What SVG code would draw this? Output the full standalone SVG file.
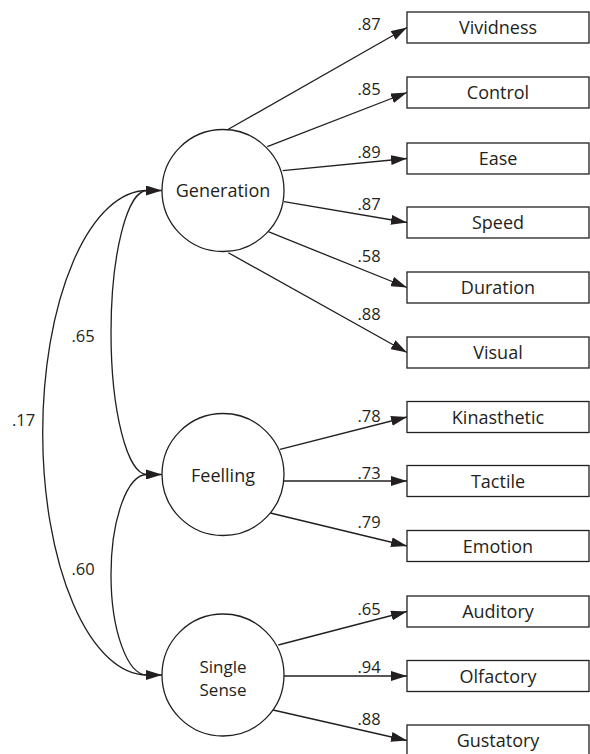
<svg xmlns="http://www.w3.org/2000/svg" width="590" height="754" viewBox="0 0 590 754">
<style>
.bg{fill:#ffffff}
.box{fill:#ffffff;stroke:#231f20;stroke-width:1.3}
.lat{fill:#ffffff;stroke:#231f20;stroke-width:1.3}
.ln{fill:none;stroke:#231f20;stroke-width:1.3}
.t{font-family:"Open Sans",Lato,"Liberation Sans",sans-serif;font-size:18px;fill:#231f20;text-anchor:middle}
.s{font-family:"Open Sans",Lato,"Liberation Sans",sans-serif;font-size:17px;fill:#231f20;text-anchor:middle}
.n{font-family:"Open Sans",Lato,"Liberation Sans",sans-serif;font-size:16.5px;fill:#231f20;text-anchor:middle}
</style>
<defs>
<marker id="ah" markerUnits="userSpaceOnUse" viewBox="0 0 16 10" markerWidth="16" markerHeight="10" refX="16" refY="5" orient="auto-start-reverse">
<path d="M0,0 L16,5 L0,10 z" fill="#231f20"/>
</marker>
</defs>
<rect class="bg" x="0" y="0" width="590" height="754"/>
<g id="connectors">
<path class="ln" d="M228.3,129.3 L407,27.5" marker-end="url(#ah)"/>
<path class="ln" d="M267.3,146.7 L407,92.5" marker-end="url(#ah)"/>
<path class="ln" d="M282.7,170.7 L407,158.5" marker-end="url(#ah)"/>
<path class="ln" d="M284,201.7 L407,222.5" marker-end="url(#ah)"/>
<path class="ln" d="M268.3,231.7 L407,287.5" marker-end="url(#ah)"/>
<path class="ln" d="M228.3,252.7 L407,352.5" marker-end="url(#ah)"/>
<path class="ln" d="M280,449.3 L407,417" marker-end="url(#ah)"/>
<path class="ln" d="M284,481 L407,481" marker-end="url(#ah)"/>
<path class="ln" d="M270.3,513 L407,546" marker-end="url(#ah)"/>
<path class="ln" d="M278.3,645 L407,611.5" marker-end="url(#ah)"/>
<path class="ln" d="M284,676 L407,676" marker-end="url(#ah)"/>
<path class="ln" d="M273,710 L407,740.5" marker-end="url(#ah)"/>
<path class="ln" d="M162,190.5 L147,190.5 A104.3,242.25 0 0 0 147,675 L162,675" marker-start="url(#ah)" marker-end="url(#ah)"/>
<path class="ln" d="M147,190.5 A36,142 0 0 0 147,474.5 L162,474.5" marker-end="url(#ah)"/>
<path class="ln" d="M147,474.5 A36,100.25 0 0 0 147,675"/>
<text class="n" x="369" y="30">.87</text>
<text class="n" x="369" y="95">.85</text>
<text class="n" x="369" y="158">.89</text>
<text class="n" x="369" y="210">.87</text>
<text class="n" x="369" y="262">.58</text>
<text class="n" x="369" y="320">.88</text>
<text class="n" x="369" y="421.5">.78</text>
<text class="n" x="369" y="479">.73</text>
<text class="n" x="369" y="528">.79</text>
<text class="n" x="369" y="615">.65</text>
<text class="n" x="369" y="673">.94</text>
<text class="n" x="369" y="725">.88</text>
<text class="n" x="83" y="342">.65</text>
<text class="n" x="23.5" y="426">.17</text>
<text class="n" x="83" y="575">.60</text>
</g>
<g id="generation"><circle class="lat" cx="223" cy="190.5" r="61"/><text class="t" x="223" y="197">Generation</text></g>
<g id="feelling"><circle class="lat" cx="223" cy="474.5" r="61"/><text class="t" x="223" y="481.5">Feelling</text></g>
<g id="single-sense"><circle class="lat" cx="223" cy="675" r="61"/><text class="s" x="223" y="673">Single</text><text class="s" x="223" y="695.5">Sense</text></g>
<g id="vividness"><rect class="box" x="407" y="12" width="182" height="31"/><text class="t" x="498" y="34.3">Vividness</text></g>
<g id="control"><rect class="box" x="407" y="77" width="182" height="31"/><text class="t" x="498" y="99.3">Control</text></g>
<g id="ease"><rect class="box" x="407" y="143" width="182" height="31"/><text class="t" x="498" y="165.3">Ease</text></g>
<g id="speed"><rect class="box" x="407" y="207" width="182" height="31"/><text class="t" x="498" y="229.3">Speed</text></g>
<g id="duration"><rect class="box" x="407" y="272" width="182" height="31"/><text class="t" x="498" y="294.3">Duration</text></g>
<g id="visual"><rect class="box" x="407" y="337" width="182" height="31"/><text class="t" x="498" y="359.3">Visual</text></g>
<g id="kinasthetic"><rect class="box" x="407" y="401.5" width="182" height="31"/><text class="t" x="498" y="423.8">Kinasthetic</text></g>
<g id="tactile"><rect class="box" x="407" y="465.5" width="182" height="31"/><text class="t" x="498" y="487.8">Tactile</text></g>
<g id="emotion"><rect class="box" x="407" y="530.5" width="182" height="31"/><text class="t" x="498" y="552.8">Emotion</text></g>
<g id="auditory"><rect class="box" x="407" y="596" width="182" height="31"/><text class="t" x="498" y="618.3">Auditory</text></g>
<g id="olfactory"><rect class="box" x="407" y="660.5" width="182" height="31"/><text class="t" x="498" y="682.8">Olfactory</text></g>
<g id="gustatory"><rect class="box" x="407" y="725" width="182" height="31"/><text class="t" x="498" y="747.3">Gustatory</text></g>
</svg>
